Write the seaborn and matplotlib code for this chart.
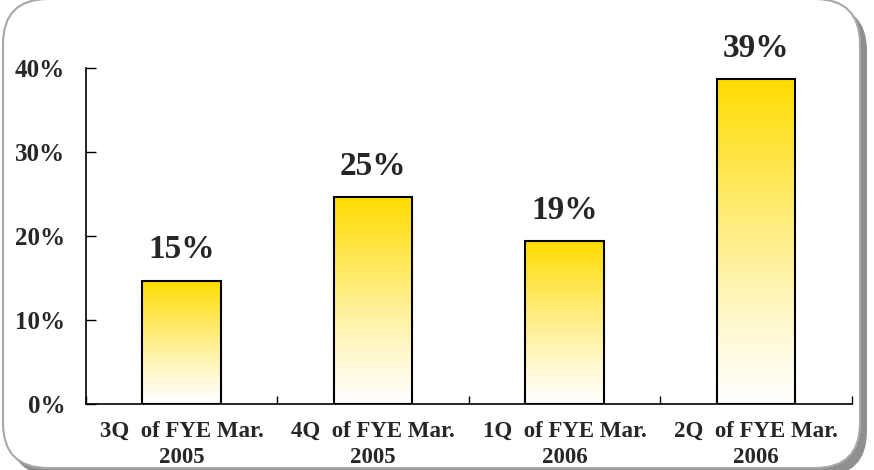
import numpy as np
import pandas as pd
import matplotlib
matplotlib.use("Agg")
import matplotlib.pyplot as plt
from matplotlib.patches import FancyBboxPatch
from matplotlib.colors import to_rgb
import seaborn as sns

# Quarterly values (percent)
quarters = ["3Q  of FYE Mar.\n2005", "4Q  of FYE Mar.\n2005",
            "1Q  of FYE Mar.\n2006", "2Q  of FYE Mar.\n2006"]
rates = [14.7, 24.6, 19.4, 38.7]
y_ticks = [0, 10, 20, 30, 40]

df = pd.DataFrame({"quarter": quarters, "rate": rates})

sns.set_theme(style="white")
plt.rcParams["font.family"] = ["Liberation Serif", "DejaVu Serif"]
plt.rcParams["font.weight"] = "bold"

fig = plt.figure(figsize=(8.74, 4.70), dpi=100)
fig.patch.set_facecolor("white")

# Rounded panel with a drop shadow, in inch coordinates
shadow = FancyBboxPatch((0.10, -0.06), 8.57, 4.70,
                        boxstyle="round,pad=0,rounding_size=0.45",
                        transform=fig.dpi_scale_trans,
                        facecolor="#8f8f8f", edgecolor="none", zorder=0)
panel = FancyBboxPatch((0.03, 0.02), 8.57, 4.69,
                       boxstyle="round,pad=0,rounding_size=0.45",
                       transform=fig.dpi_scale_trans,
                       facecolor="white", edgecolor="#a8a8a8", linewidth=1.5, zorder=1)
fig.patches.extend([shadow, panel])

ax = fig.add_axes([0.0984, 0.1404, 0.8764, 0.7149])
ax.set_facecolor("none")
ax.set_zorder(2)

sns.barplot(data=df, x="quarter", y="rate", ax=ax, width=0.41,
            facecolor="none", edgecolor="black", linewidth=1.5, zorder=3)

# Yellow-to-white vertical gradient inside each bar
top = np.array(to_rgb("#FFDC00"))
white = np.ones(3)
f = np.linspace(0, 1, 256)[:, None] ** 1.15
grad = white + (top - white) * f
grad = grad[:, None, :]
for bar in ax.patches:
    x0, w, h = bar.get_x(), bar.get_width(), bar.get_height()
    im = ax.imshow(grad, extent=[x0, x0 + w, 0, h], origin="lower",
                   aspect="auto", zorder=2, interpolation="bilinear")
    im.set_clip_path(bar)

ax.set_xlim(-0.5, len(quarters) - 0.5)
ax.set_ylim(0, 40)

# Value labels above bars
for bar, v in zip(ax.patches, rates):
    ax.annotate(f"{v:.0f}%", (bar.get_x() + bar.get_width() / 2, bar.get_height()),
                xytext=(0, 11), textcoords="offset points", ha="center", va="bottom",
                fontsize=24, fontweight="bold", clip_on=False)

# Ticks between categories, labels at category centres
n = len(quarters)
ax.set_xticks(np.arange(-0.5, n, 1.0))
ax.set_xticklabels([])
ax.set_xticks(np.arange(n), minor=True)
ax.set_xticklabels(quarters, minor=True, fontsize=16.5, fontweight="bold", linespacing=1.35)
ax.tick_params(axis="x", which="major", direction="in", length=6, width=1, color="black",
               bottom=True)
ax.tick_params(axis="x", which="minor", length=0, pad=12, bottom=True)

ax.set_yticks(y_ticks)
ax.set_yticklabels([f"{t}%" for t in y_ticks], fontsize=18, fontweight="bold")
ax.tick_params(axis="y", direction="in", length=7, width=1, color="black", pad=15, left=True)

ax.set_xlabel("")
ax.set_ylabel("")
for s in ["top", "right"]:
    ax.spines[s].set_visible(False)
for s in ["left", "bottom"]:
    ax.spines[s].set_color("black")
    ax.spines[s].set_linewidth(1.2)
ax.grid(False)

fig.savefig("out.png", dpi=100)
